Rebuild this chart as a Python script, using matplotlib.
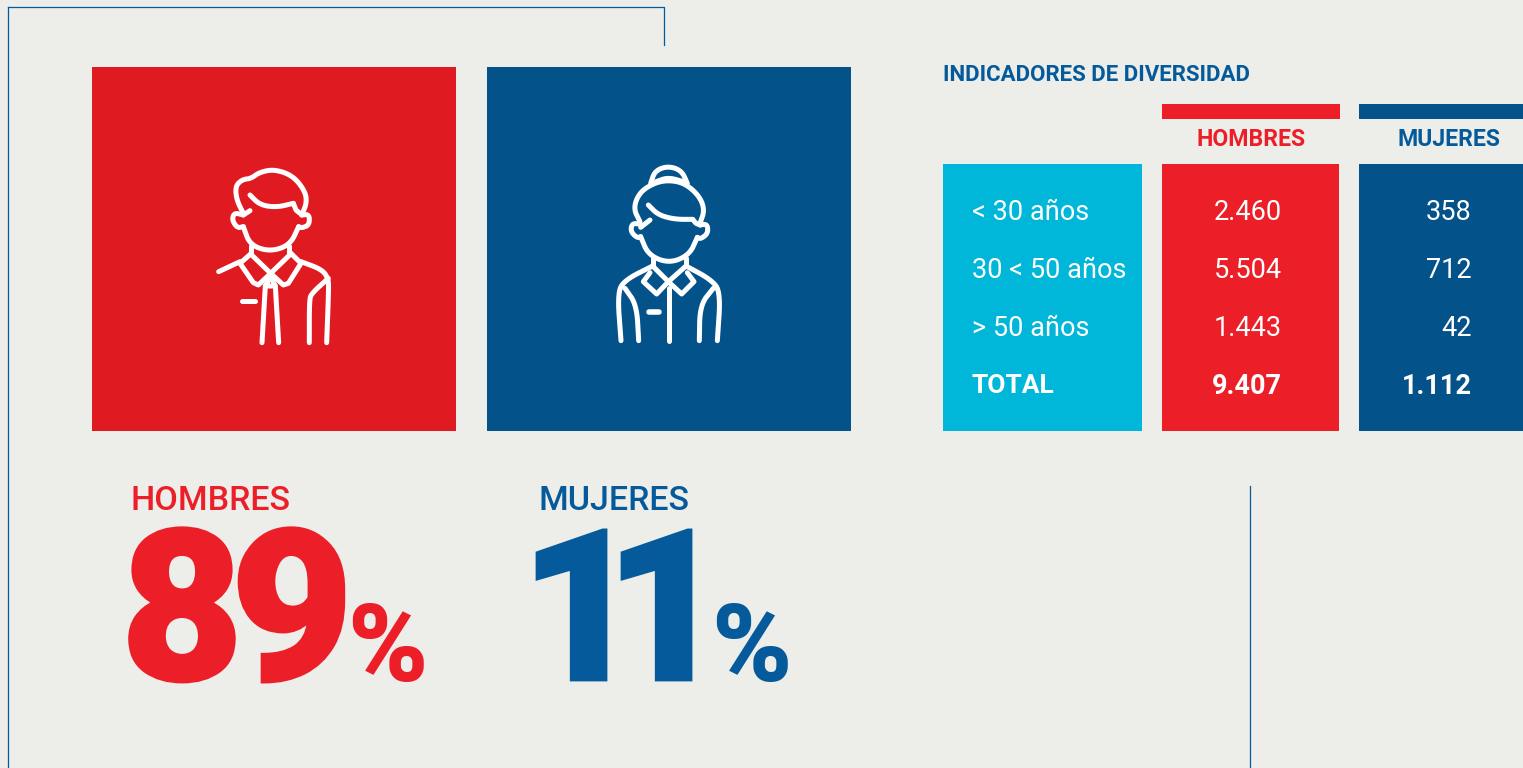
import numpy as np
import matplotlib
matplotlib.use('Agg')
import matplotlib.pyplot as plt
import matplotlib.patheffects as pe
from matplotlib.patches import Rectangle

# data
age_groups = ['< 30 años', '30 < 50 años', '> 50 años']
men_counts = ['2.460', '5.504', '1.443']
women_counts = ['358', '712', '42']
total_label = 'TOTAL'
men_total = '9.407'
women_total = '1.112'
men_pct = '89'
women_pct = '11'

BG = '#EDEDE9'
RED_BOX = '#DF1B21'
RED = '#EC1E28'
BLUE = '#03528A'
BLUE_TXT = '#045A9A'
CYAN = '#00B7D9'

plt.rcParams['font.family'] = ['Roboto', 'DejaVu Sans']

fig = plt.figure(figsize=(15.23, 7.68), dpi=100, facecolor=BG)
ax = fig.add_axes([0, 0, 1, 1])
ax.set_xlim(0, 1523)
ax.set_ylim(768, 0)
ax.axis('off')


def box(x0, y0, x1, y1, color):
    ax.add_patch(Rectangle((x0, y0), x1 - x0, y1 - y0, facecolor=color, edgecolor='none'))


def smooth(pts, n=3):
    # corner cutting, keeps the end points
    pts = np.array(pts, dtype=float)
    for _ in range(n):
        q = pts[:-1] * 0.75 + pts[1:] * 0.25
        r = pts[:-1] * 0.25 + pts[1:] * 0.75
        pts = np.vstack([pts[:1], np.column_stack([q, r]).reshape(-1, 2), pts[-1:]])
    return pts


def stroke(pts, ox, oy, curved=True, lw=3.6):
    p = smooth(pts) if curved else np.array(pts, dtype=float)
    ax.plot(ox + p[:, 0] / 3, oy + p[:, 1] / 3, color='white', lw=lw,
            solid_capstyle='round', solid_joinstyle='round')


def big_digit(x, y, s, color):
    # the reference face is narrower than Roboto, so digits are set one by one
    ax.text(x, y, s, color=color, fontsize=152, fontweight='black', va='baseline', ha='center',
            path_effects=[pe.withStroke(linewidth=2, foreground=color, joinstyle='miter')])


# frame lines
ax.plot([8.5, 8.5], [768, 6.5], color=BLUE_TXT, lw=0.9)
ax.plot([8.5, 664.5, 664.5], [6.5, 6.5, 45], color=BLUE_TXT, lw=0.9)
ax.plot([1250.5, 1250.5], [486, 768], color=BLUE_TXT, lw=0.9)

# big squares
box(92, 67, 456, 431, RED_BOX)
box(487, 67, 851, 431, BLUE)

# man icon, points read in a 3x crop
ox, oy = 200, 150
stroke([(130, 190), (110, 150), (106, 108), (128, 88), (152, 86), (180, 66), (225, 58), (280, 78), (316, 125), (320, 160), (305, 195)], ox, oy)
stroke([(150, 135), (180, 165), (230, 172), (280, 160)], ox, oy)
stroke([(280, 160), (288, 180), (300, 190)], ox, oy, curved=False)
stroke([(130, 195), (150, 182)], ox, oy, curved=False)
stroke([(130, 195), (103, 188), (96, 210), (112, 234), (130, 230)], ox, oy)
stroke([(305, 195), (328, 193), (328, 225), (305, 234), (296, 230)], ox, oy)
stroke([(130, 230), (150, 285), (210, 305), (270, 285), (296, 230)], ox, oy)
stroke([(152, 288), (152, 312)], ox, oy, curved=False)
stroke([(268, 288), (268, 312)], ox, oy, curved=False)
stroke([(152, 312), (120, 340), (160, 398), (175, 405), (212, 370), (250, 405), (265, 400), (303, 340), (268, 305)], ox, oy, curved=False)
stroke([(152, 312), (212, 370), (272, 312)], ox, oy, curved=False)
stroke([(120, 335), (56, 365)], ox, oy, curved=False)
stroke([(303, 335), (365, 358), (385, 385), (386, 420), (380, 578)], ox, oy)
stroke([(385, 385), (335, 430), (328, 450), (328, 578)], ox, oy)
stroke([(196, 408), (186, 578)], ox, oy, curved=False)
stroke([(226, 408), (236, 578)], ox, oy, curved=False)
stroke([(196, 408), (212, 380), (226, 408), (196, 408)], ox, oy, curved=False)
stroke([(126, 453), (165, 453)], ox, oy, curved=False)

# woman icon
ox, oy = 600, 150
stroke([(152, 100), (165, 62), (205, 48), (245, 62), (262, 100)], ox, oy)
stroke([(168, 95), (205, 82), (250, 95)], ox, oy)
stroke([(120, 215), (100, 175), (118, 128), (160, 100), (205, 90), (255, 100), (298, 138), (314, 180), (300, 220)], ox, oy)
stroke([(145, 165), (175, 195), (225, 208), (278, 208)], ox, oy)
stroke([(278, 208), (288, 220), (300, 225)], ox, oy, curved=False)
stroke([(122, 232), (150, 210)], ox, oy)
stroke([(120, 222), (96, 220), (92, 245), (112, 264), (122, 260)], ox, oy)
stroke([(300, 225), (322, 222), (324, 250), (302, 267), (292, 262)], ox, oy)
stroke([(122, 260), (145, 315), (207, 340), (268, 315), (292, 262)], ox, oy)
stroke([(158, 325), (158, 348)], ox, oy, curved=False)
stroke([(258, 325), (258, 348)], ox, oy, curved=False)
stroke([(158, 348), (205, 395), (258, 348)], ox, oy, curved=False)
stroke([(150, 368), (130, 395), (170, 432), (205, 395), (245, 432), (282, 395), (262, 368)], ox, oy, curved=False)
stroke([(158, 348), (78, 388), (52, 425), (63, 572)], ox, oy)
stroke([(258, 348), (332, 388), (362, 425), (352, 572)], ox, oy)
stroke([(75, 415), (110, 465), (116, 572)], ox, oy)
stroke([(340, 415), (300, 465), (298, 572)], ox, oy)
stroke([(207, 415), (207, 572)], ox, oy, curved=False)
stroke([(146, 485), (178, 485)], ox, oy, curved=False, lw=4)

# table
ax.text(943, 75, 'INDICADORES DE DIVERSIDAD', color=BLUE_TXT, fontsize=16, fontweight='bold', va='center')
box(1162, 104, 1340, 119, RED)
box(1359, 104, 1523, 119, BLUE)
ax.text(1251, 139, 'HOMBRES', color=RED, fontsize=16.6, fontweight='bold', ha='center', va='center')
ax.text(1449, 139, 'MUJERES', color=BLUE_TXT, fontsize=16.6, fontweight='bold', ha='center', va='center')
box(943, 164, 1142, 431, CYAN)
box(1162, 164, 1339, 431, RED)
box(1359, 164, 1523, 431, BLUE)

row_y = [212, 270, 328]
for y, age, m, w in zip(row_y, age_groups, men_counts, women_counts):
    ax.text(972, y, age, color='white', fontsize=19.5, va='center')
    ax.text(1282, y, m, color='white', fontsize=19.5, ha='right', va='center')
    ax.text(1472, y, w, color='white', fontsize=19.5, ha='right', va='center')
ax.text(972, 386, total_label, color='white', fontsize=19, fontweight='bold', va='center')
ax.text(1282, 386, men_total, color='white', fontsize=19.5, fontweight='bold', ha='right', va='center')
ax.text(1472, 386, women_total, color='white', fontsize=19.5, fontweight='bold', ha='right', va='center')

# percentages
ax.text(131, 510, 'HOMBRES', color=RED, fontsize=24.5, fontweight='medium', va='baseline')
ax.text(539, 510, 'MUJERES', color=BLUE_TXT, fontsize=24.5, fontweight='medium', va='baseline')
for x, d in zip([182, 292], men_pct):
    big_digit(x, 680, d, RED)
ax.text(347, 681, '%', color=RED, fontsize=78, fontweight='black', va='baseline')
for x, d in zip([581, 666], women_pct):
    big_digit(x, 680, d, BLUE_TXT)
ax.text(711, 681, '%', color=BLUE_TXT, fontsize=78, fontweight='black', va='baseline')

fig.savefig('out.png', dpi=100, facecolor=BG)
